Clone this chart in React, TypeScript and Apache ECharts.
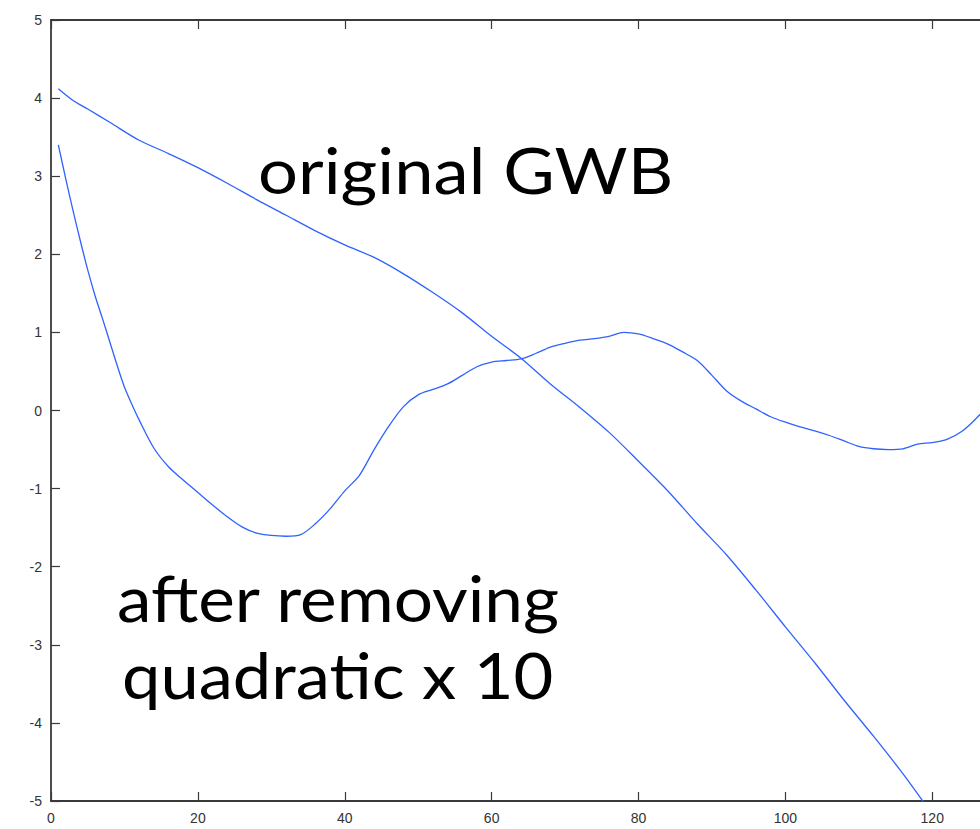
import React, { useEffect, useRef } from "react";
import * as echarts from "echarts";

const xValues: number[] = [1, 2, 3, 4, 5, 6, 7, 8, 9, 10, 11, 12, 14, 16, 18, 20, 22, 24, 26, 28, 30, 32, 34, 36, 38, 40, 42, 44, 46, 48, 50, 52, 54, 56, 58, 60, 62, 64, 66, 68, 70, 72, 74, 76, 78, 80, 82, 84, 86, 88, 90, 92, 94, 96, 98, 100, 102, 104, 106, 108, 110, 112, 114, 116, 118, 120, 122, 124, 126, 128];

const originalX: number[] = [1, 3, 5, 8, 12, 16, 20, 24, 28, 32, 36, 40, 44, 48, 52, 56, 60, 64, 68, 72, 76, 80, 84, 88, 92, 96, 100, 104, 108, 112, 116, 120, 124, 128];
const originalGWB: number[] = [4.12, 3.97, 3.86, 3.69, 3.46, 3.29, 3.11, 2.91, 2.70, 2.50, 2.30, 2.12, 1.96, 1.75, 1.51, 1.25, 0.95, 0.67, 0.34, 0.04, -0.28, -0.65, -1.03, -1.45, -1.85, -2.30, -2.77, -3.23, -3.71, -4.17, -4.65, -5.17, -5.70, -6.25];

const removedQuadratic: number[] = [3.40, 2.97, 2.56, 2.17, 1.80, 1.47, 1.18, 0.88, 0.58, 0.30, 0.08, -0.12, -0.48, -0.72, -0.89, -1.05, -1.21, -1.36, -1.49, -1.57, -1.60, -1.61, -1.59, -1.45, -1.26, -1.03, -0.83, -0.50, -0.20, 0.05, 0.20, 0.27, 0.34, 0.45, 0.56, 0.62, 0.64, 0.66, 0.73, 0.81, 0.86, 0.90, 0.92, 0.95, 1.00, 0.98, 0.92, 0.85, 0.75, 0.64, 0.45, 0.25, 0.12, 0.02, -0.08, -0.15, -0.21, -0.26, -0.32, -0.39, -0.46, -0.49, -0.50, -0.49, -0.43, -0.41, -0.37, -0.27, -0.10, 0.10];

const xTicks: number[] = [0, 20, 40, 60, 80, 100, 120];
const yTicks: number[] = [-5, -4, -3, -2, -1, 0, 1, 2, 3, 4, 5];

const labelOriginal = "original GWB";
const labelAfter1 = "after removing";
const labelAfter2 = "quadratic x 10";

export default function App() {
  const ref = useRef<HTMLDivElement>(null);
  useEffect(() => {
    document.body.style.margin = "0";
    if (!ref.current) return;
    const chart = echarts.init(ref.current, undefined, { renderer: "svg" });
    const lineColor = "#2f62ff";
    const axisColor = "#3a3a3a";
    const tickStyle = { show: true, inside: true, length: 9, lineStyle: { color: axisColor, width: 1.2 } };
    const textFont = "Lato, 'Open Sans', sans-serif";
    chart.setOption({
      animation: false,
      backgroundColor: "#ffffff",
      grid: { left: 51, top: 20, height: 781, width: 940, containLabel: false, outerBoundsMode: "none" },
      xAxis: [
        {
          type: "value",
          min: 0,
          max: 128,
          interval: 20,
          axisLine: { show: true, onZero: false, lineStyle: { color: axisColor, width: 1.8 } },
          axisTick: tickStyle,
          splitLine: { show: false },
          axisLabel: {
            show: true,
            margin: 10,
            color: "#333",
            fontFamily: "'Liberation Sans', Arial, sans-serif",
            fontSize: 14,
            showMaxLabel: false,
            formatter: (v: number) => (xTicks.includes(v) ? String(v) : ""),
          },
        },
        {
          type: "value",
          position: "top",
          min: 0,
          max: 128,
          interval: 20,
          axisLine: { show: true, onZero: false, lineStyle: { color: axisColor, width: 1.8 } },
          axisTick: tickStyle,
          splitLine: { show: false },
          axisLabel: { show: false },
        },
      ],
      yAxis: [
        {
          type: "value",
          min: -5,
          max: 5,
          interval: 1,
          axisLine: { show: true, onZero: false, lineStyle: { color: axisColor, width: 1.8 } },
          axisTick: tickStyle,
          splitLine: { show: false },
          axisLabel: {
            show: true,
            margin: 9,
            color: "#333",
            fontFamily: "'Liberation Sans', Arial, sans-serif",
            fontSize: 14,
            formatter: (v: number) => (yTicks.includes(v) ? String(v) : ""),
          },
        },
        {
          type: "value",
          position: "right",
          min: -5,
          max: 5,
          interval: 1,
          axisLine: { show: true, onZero: false, lineStyle: { color: axisColor, width: 1.8 } },
          axisTick: tickStyle,
          splitLine: { show: false },
          axisLabel: { show: false },
        },
      ],
      series: [
        {
          name: labelOriginal,
          type: "line",
          data: originalX.map((x, i) => [x, originalGWB[i]]),
          smooth: 0.3,
          showSymbol: false,
          clip: true,
          lineStyle: { color: lineColor, width: 1.3 },
          itemStyle: { color: lineColor },
        },
        {
          name: labelAfter1 + " " + labelAfter2,
          type: "line",
          data: xValues.map((x, i) => [x, removedQuadratic[i]]),
          smooth: 0.3,
          showSymbol: false,
          clip: true,
          lineStyle: { color: lineColor, width: 1.3 },
          itemStyle: { color: lineColor },
        },
      ],
      graphic: [
        {
          type: "text",
          x: 258,
          y: 138,
          scaleX: 1.12,
          style: { text: labelOriginal, font: `63px ${textFont}`, fill: "#000" },
        },
        {
          type: "text",
          x: 117,
          y: 566,
          scaleX: 1.1,
          style: { text: labelAfter1, font: `63px ${textFont}`, fill: "#000" },
        },
        {
          type: "text",
          x: 122,
          y: 643,
          scaleX: 1.09,
          style: { text: labelAfter2, font: `63px ${textFont}`, fill: "#000" },
        },
      ],
    });
    return () => chart.dispose();
  }, []);
  return <div ref={ref} style={{ width: 980, height: 829 }} />;
}
